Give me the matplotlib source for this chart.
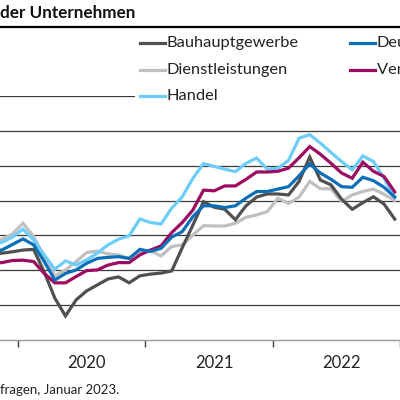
import matplotlib
matplotlib.use("Agg")
import matplotlib.pyplot as plt
from matplotlib.lines import Line2D
from matplotlib.patches import Rectangle

plt.rcParams['font.family'] = ['Lato', 'DejaVu Sans']

# ---- Daten (Monatswerte Okt 2019 bis Dez 2022) ----
start_year, start_month = 2019, 10
bauhaupt = [-15.3, -15.1, -14.7,
            -14.2, -14.0, -20.5, -28.0, -33.1, -28.5, -25.9, -24.2, -22.5, -21.9, -23.6, -21.6,
            -21.1, -20.8, -20.2, -13.5, -7.0, -0.3, -1.9, -2.5, -5.5, -1.5, 1.0, 1.9,
            1.9, 1.6, 5.5, 12.5, 5.9, 4.5, 0.4, -2.5, -0.6, 1.1, -1.0, -5.3]
dienst = [-11.6, -11.1, -9.6,
          -6.5, -10.3, -16.1, -21.6, -19.9, -17.5, -14.9, -14.5, -15.3, -15.6, -16.6, -14.6,
          -14.4, -15.9, -13.2, -12.7, -9.9, -7.2, -7.3, -7.3, -6.5, -4.8, -4.1, -3.2,
          0.7, -0.8, 1.0, 5.5, 3.4, 3.4, -0.3, 1.6, 2.6, 3.3, 1.8, 0.0]
handel = [-12.3, -12.0, -10.5,
          -8.2, -11.3, -15.6, -19.7, -17.3, -18.5, -17.0, -15.1, -12.7, -11.1, -10.1, -5.3,
          -6.3, -6.7, -2.2, 1.1, 6.4, 10.6, 9.8, 9.0, 8.3, 10.7, 12.2, 9.0,
          9.3, 11.5, 17.9, 18.9, 16.5, 13.8, 11.2, 8.8, 12.8, 11.2, 6.4, 1.0]
deutschland = [-14.5, -14.2, -12.6,
               -11.0, -12.7, -17.5, -22.8, -20.9, -19.9, -18.0, -16.6, -16.3, -16.1, -16.6, -14.0,
               -14.6, -13.7, -10.5, -8.9, -4.6, -1.5, -1.5, -2.0, -1.5, 0.7, 2.6, 2.6,
               3.3, 4.0, 7.1, 10.5, 7.9, 6.1, 4.0, 3.8, 6.7, 5.7, 3.8, 1.0]
verarbeitend = [-18.0, -17.8, -17.2,
                -17.1, -17.5, -20.9, -23.6, -23.6, -21.8, -20.1, -19.9, -18.5, -17.8, -17.8, -15.6,
                -14.2, -13.0, -9.2, -6.3, -2.7, 3.0, 2.8, 4.2, 4.2, 6.1, 8.2, 8.2,
                8.4, 9.3, 12.3, 15.5, 13.3, 10.7, 7.9, 6.4, 11.0, 8.4, 6.9, 2.5]
years = ['2020', '2021', '2022']

# x-Position: Monatsmitte, 0 = Beginn Jan 2020
offset = (start_year - 2020) * 12 + (start_month - 1)
x = [offset + i + 0.5 for i in range(len(bauhaupt))]

fig = plt.figure(figsize=(4, 4), dpi=100)

def fx(px):
    return px / 400

def fy(py):
    return 1 - py / 400

# Achse reicht links/rechts ueber das Bild hinaus (Ausschnitt)
ax = fig.add_axes([0, fy(340), 1, fy(96) - fy(340)])
ax.set_xlim(-18 / 10.81, (400 - 18) / 10.81)
ax.set_ylim(-40, 30)

serien = [
    (dienst, '#c0c0c0', 'Dienstleistungen'),
    (bauhaupt, '#505050', 'Bauhauptgewerbe'),
    (handel, '#6dcdfa', 'Handel'),
    (verarbeitend, '#9c0a61', 'Verarbeitendes Gewerbe'),
    (deutschland, '#0a6fb8', 'Deutschland'),
]
for werte, farbe, name in serien:
    ax.plot(x, werte, color=farbe, lw=2.3, solid_joinstyle='miter', zorder=3)

ax.set_yticks(range(-30, 31, 10))
ax.yaxis.grid(True, color='#3a3a3a', lw=0.9)
ax.tick_params(axis='y', left=False, labelleft=False)
for s in ['left', 'right', 'top']:
    ax.spines[s].set_visible(False)
ax.spines['bottom'].set_color('#9a9a9a')
ax.spines['bottom'].set_linewidth(1)

ax.set_xticks([0, 12, 24, 36])
ax.set_xticklabels([])
ax.tick_params(axis='x', which='major', length=5, width=1, color='#404040', direction='out')
ax.set_xticks([6.5, 18.5, 30.5], minor=True)
ax.set_xticklabels(years, minor=True)
ax.tick_params(axis='x', which='minor', length=0, pad=11, labelsize=12, labelcolor='#222222')

# Titel und Trennlinie
fig.text(0, fy(13), 'der Unternehmen', fontsize=12.3, fontweight='bold', color='#111111', va='center', ha='left')
fig.add_artist(Line2D([0, 1], [fy(27), fy(27)], color='black', lw=1.6, transform=fig.transFigure))

# Legende (weisser Kasten deckt die oberste Gitterlinie ab)
fig.add_artist(Rectangle((fx(135), fy(108)), 1, fy(30) - fy(108), facecolor='white', edgecolor='none',
                         transform=fig.transFigure, zorder=2))
legende = [
    ('Bauhauptgewerbe', '#505050', 140, 43),
    ('Dienstleistungen', '#c0c0c0', 140, 70),
    ('Handel', '#6dcdfa', 140, 96),
    ('Deutschland', '#0a6fb8', 350, 43),
    ('Verarbeitendes Gewerbe', '#9c0a61', 350, 70),
]
for name, farbe, lx, ly in legende:
    fig.add_artist(Line2D([fx(lx), fx(lx + 25)], [fy(ly), fy(ly)], color=farbe, lw=2.3,
                          transform=fig.transFigure, zorder=3))
    fig.text(fx(lx + 27), fy(ly), name, fontsize=11.8, color='#222222', va='center', ha='left', zorder=3)

fig.text(0, fy(390), 'fragen, Januar 2023.', fontsize=9.5, color='#222222', va='center', ha='left')

fig.savefig('out.png', dpi=100)
